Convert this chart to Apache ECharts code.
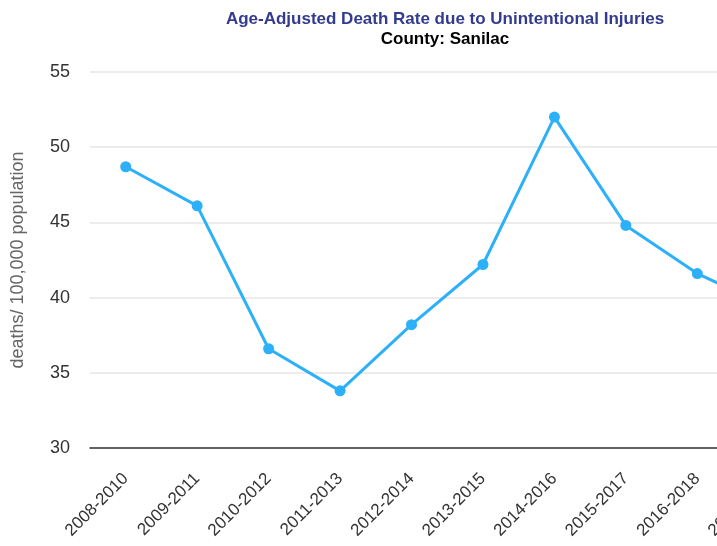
<!DOCTYPE html>
<html lang="en">
<head>
    <meta charset="UTF-8">
    <title>Unintentional Injuries - Sanilac</title>
    <script type="text/javascript" src="https://cdn.jsdelivr.net/npm/echarts@6/dist/echarts.min.js"></script>
    <style>
        html, body {
            margin: 0;
            padding: 0;
            overflow: hidden;
            background: #fff;
        }
        /* the original chart is wider than the window, so it is cut on the right */
        #main {
            width: 890px;
            height: 546px;
        }
    </style>
</head>
<body>
<div id="main"></div>
<script>
    var periods = ['2008-2010', '2009-2011', '2010-2012', '2011-2013', '2012-2014',
        '2013-2015', '2014-2016', '2015-2017', '2016-2018', '2017-2019']
    var rates = [48.7, 46.1, 36.6, 33.8, 38.2, 42.2, 52.0, 44.8, 41.6, 39.4]
    var yTicks = {min: 30, max: 55, step: 5}

    var myChart = echarts.init(document.getElementById('main'))

    var option = {
        animation: false,
        title: {
            left: 'center',
            top: 6,
            text: 'Age-Adjusted Death Rate due to Unintentional Injuries',
            subtext: 'County: Sanilac',
            itemGap: 3,
            textStyle: {
                fontFamily: 'Liberation Sans',
                fontSize: 17,
                fontWeight: 'bold',
                color: '#333b8f'
            },
            subtextStyle: {
                fontFamily: 'Liberation Sans',
                fontSize: 17,
                fontWeight: 'bold',
                color: '#000'
            }
        },
        grid: {
            left: 90,
            right: 85.5,
            top: 72,
            bottom: 98,
            containLabel: false,
            outerBoundsMode: 'none'
        },
        xAxis: {
            type: 'category',
            data: periods,
            boundaryGap: true,
            axisTick: {show: false},
            axisLine: {lineStyle: {color: '#333', width: 1.5}},
            axisLabel: {
                rotate: 45,
                fontFamily: 'Liberation Sans',
                fontSize: 17,
                color: '#333',
                margin: 28
            }
        },
        yAxis: {
            type: 'value',
            min: yTicks.min,
            max: yTicks.max,
            interval: yTicks.step,
            name: 'deaths/ 100,000 population',
            nameLocation: 'middle',
            nameGap: 63,
            nameTextStyle: {
                fontFamily: 'Liberation Sans',
                fontSize: 18,
                color: '#666'
            },
            axisLine: {show: false},
            axisTick: {show: false},
            axisLabel: {
                fontFamily: 'Liberation Sans',
                fontSize: 18,
                color: '#333',
                margin: 20
            },
            splitLine: {lineStyle: {color: '#e6e6e6', width: 1.5}}
        },
        series: [{
            type: 'line',
            data: rates,
            symbol: 'circle',
            symbolSize: 11,
            lineStyle: {color: '#2cb0fa', width: 3},
            itemStyle: {color: '#2cb0fa'}
        }]
    }

    myChart.setOption(option)
</script>
</body>
</html>
